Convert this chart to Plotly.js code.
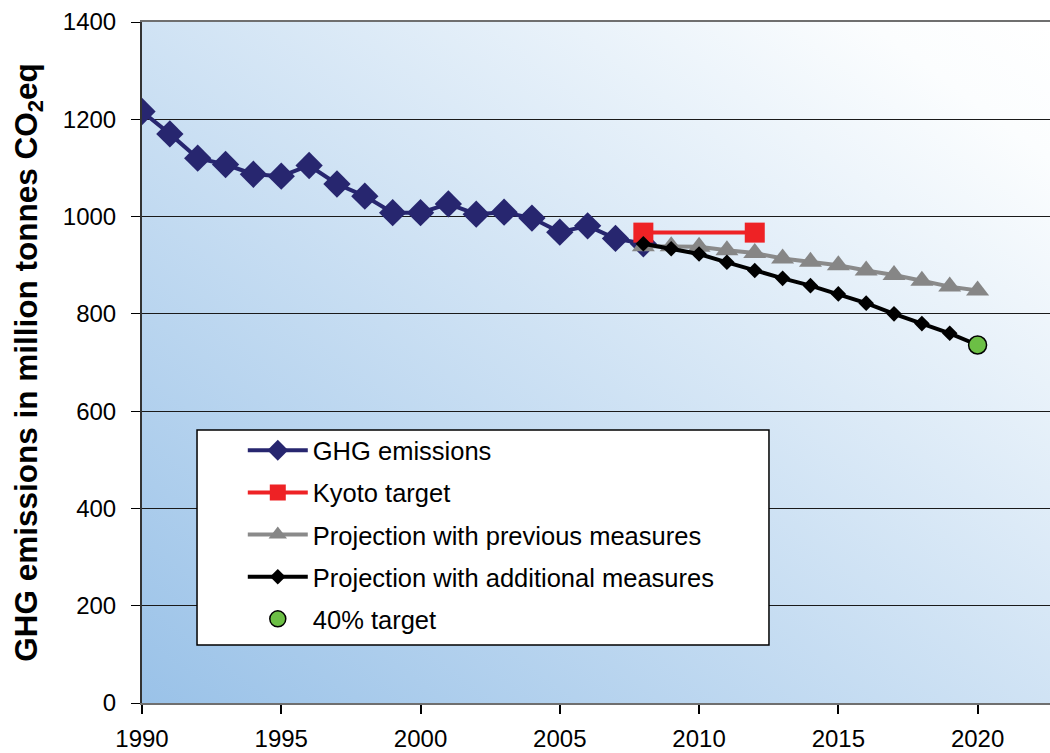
<!DOCTYPE html>
<html>
<head>
<meta charset="utf-8">
<script src="https://cdn.plot.ly/plotly-3.0.1.min.js"></script>
<style>
  html, body { margin: 0; padding: 0; background: #fff; }
  #chart { width: 1050px; height: 753px; }
</style>
</head>
<body>
<div id="chart"></div>
<script>
// Historical greenhouse gas emissions (million tonnes CO2eq)
const histYears = [1990, 1991, 1992, 1993, 1994, 1995, 1996, 1997, 1998, 1999,
                   2000, 2001, 2002, 2003, 2004, 2005, 2006, 2007, 2008];
const histValues = [1216, 1170, 1120, 1107, 1087, 1083, 1105, 1067, 1042, 1008,
                    1008, 1026, 1005, 1009, 997, 968, 981, 955, 944];

// Kyoto commitment period target
const kyotoYears = [2008, 2012];
const kyotoValues = [967, 967];

// Projection with previous measures
const projYears = [2008, 2009, 2010, 2011, 2012, 2013, 2014, 2015, 2016, 2017, 2018, 2019, 2020];
const projPrevValues = [939, 939, 938, 931, 925, 914, 907, 900, 889, 880, 868, 856, 848];

// Projection with additional measures
const projAddValues = [944, 934, 923, 906, 889, 873, 858, 841, 822, 800, 780, 760, 736];

// 40% reduction target
const targetYears = [2020];
const targetValues = [736];

const xTicks = [1990, 1995, 2000, 2005, 2010, 2015, 2020];
const yTicks = [0, 200, 400, 600, 800, 1000, 1200, 1400];

// Diagonal blue-to-white fill for the plotting area
const bgSvg = '<svg xmlns="http://www.w3.org/2000/svg" width="100" height="100" viewBox="0 0 100 100" preserveAspectRatio="none">' +
  '<defs><linearGradient id="g" x1="0" y1="1" x2="1" y2="0">' +
  '<stop offset="0" stop-color="#9ac2e8"/><stop offset="0.9" stop-color="#fbfdfe"/><stop offset="1" stop-color="#ffffff"/>' +
  '</linearGradient></defs><rect width="100" height="100" fill="url(#g)"/></svg>';
const bgUri = 'data:image/svg+xml;base64,' + btoa(bgSvg);

const font = 'Liberation Sans, Arial, sans-serif';

const traces = [
  {
    x: histYears, y: histValues, name: 'GHG emissions', type: 'scatter', mode: 'lines+markers',
    line: {color: '#27266f', width: 4},
    marker: {symbol: 'diamond', size: 21, color: '#27266f'},
    legendgroup: 'a'
  },
  {
    x: kyotoYears, y: kyotoValues, name: 'Kyoto target', type: 'scatter', mode: 'lines+markers',
    line: {color: '#ee2225', width: 4},
    marker: {symbol: 'square', size: 20, color: '#ee2225'},
    legendgroup: 'b'
  },
  {
    x: projYears, y: projPrevValues, name: 'Projection with previous measures', type: 'scatter', mode: 'lines+markers',
    line: {color: '#8a8a8a', width: 4},
    marker: {symbol: 'triangle-up', size: 20, color: '#868686'},
    legendgroup: 'c'
  },
  {
    x: projYears, y: projAddValues, name: 'Projection with additional measures', type: 'scatter', mode: 'lines+markers',
    line: {color: '#000000', width: 4},
    marker: {symbol: 'diamond', size: 12, color: '#000000'},
    legendgroup: 'd'
  },
  {
    x: targetYears, y: targetValues, name: '40% target', type: 'scatter', mode: 'markers',
    marker: {symbol: 'circle', size: 18, color: '#6cbf45', line: {color: '#000000', width: 1.5}},
    legendgroup: 'e'
  }
];

const layout = {
  width: 1050, height: 753,
  margin: {l: 142, r: 0, t: 22, b: 50},
  paper_bgcolor: '#ffffff',
  plot_bgcolor: 'rgba(0,0,0,0)',
  font: {family: font, color: '#000000', size: 24},
  showlegend: true,
  legend: {
    x: 0.111, y: 0.405, xanchor: 'left', yanchor: 'top',
    bgcolor: 'rgba(0,0,0,0)', borderwidth: 0,
    font: {family: font, size: 25.5, color: '#000'},
    tracegroupgap: 6,
    itemwidth: 60
  },
  xaxis: {
    range: [1990, 2022.6],
    tickvals: xTicks, ticktext: xTicks.map(String),
    showgrid: false, zeroline: false,
    showline: true, linecolor: '#6f6f6f', linewidth: 2, mirror: true,
    ticks: 'outside', ticklen: 9, tickwidth: 2, tickcolor: '#000',
    tickfont: {family: font, size: 24, color: '#000'},
    ticklabelstandoff: 4
  },
  yaxis: {
    range: [0, 1400],
    tickvals: yTicks,
    showgrid: true, gridcolor: '#1a1a1a', gridwidth: 1,
    zeroline: false,
    showline: true, linecolor: '#333333', linewidth: 2,
    ticks: 'outside', ticklen: 9, tickwidth: 1, tickcolor: '#000',
    tickfont: {family: font, size: 24, color: '#000'},
    ticklabelstandoff: 10,
    title: {
      text: '<b>GHG emissions in million tonnes CO<sub>2</sub>eq</b>',
      font: {family: font, size: 31.5, color: '#000'},
      standoff: 16
    }
  },
  images: [{
    source: bgUri, xref: 'paper', yref: 'paper',
    x: 0, y: 1, sizex: 1, sizey: 1, xanchor: 'left', yanchor: 'top',
    sizing: 'stretch', layer: 'below'
  }],
  shapes: [{
    type: 'rect', xref: 'paper', yref: 'paper',
    x0: 0.0606, x1: 0.6905, y0: 0.0851, y1: 0.4009,
    fillcolor: '#ffffff', line: {color: '#000000', width: 1.5}, layer: 'above'
  }]
};

Plotly.newPlot('chart', traces, layout, {staticPlot: true, displayModeBar: false});
</script>
</body>
</html>
